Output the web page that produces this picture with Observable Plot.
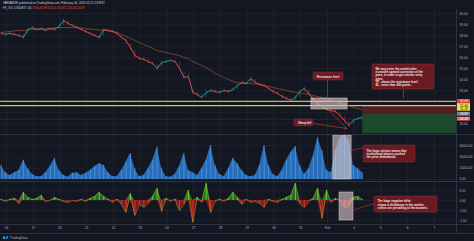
<!DOCTYPE html>
<html><head><meta charset="utf-8">
<script src="https://cdn.jsdelivr.net/npm/d3@7"></script>
<script src="https://cdn.jsdelivr.net/npm/@observablehq/plot@0.6"></script>
<style>
html,body{margin:0;padding:0;background:#131722;}
#root{position:relative;width:474px;height:241px;background:#131722;overflow:hidden;}
.pane{position:absolute;left:0;}
</style></head><body><div id="root"></div>
<script>
// ---------- data ----------
const dayLabels = ["16","17","20","21","22","23","24","27","28","29","30","31","Feb","4","5","6","7"];
const t0 = -0.2, step = 1 / 6; // 4-hour samples, in trading-day units
const close = [58.21,58.12,58.21,58.12,58.03,57.85,58.57,58.75,58.57,58.66,
 58.48,58.66,58.57,58.85,59.39,59.12,58.94,58.75,58.57,58.39,
 58.21,58.03,57.85,58.57,58.48,58.39,58.21,57.85,57.57,56.94,
 56.21,55.94,55.85,55.66,55.48,55.03,55.57,55.66,55.76,55.66,
 55.03,54.21,54.30,52.85,52.66,52.39,52.85,53.03,52.94,52.85,
 53.03,52.94,53.12,53.48,53.75,53.66,54.12,53.75,53.57,53.48,
 53.21,52.94,52.75,52.48,52.30,52.12,52.39,52.94,53.21,52.75,
 52.21,51.85,51.57,51.30,51.21,51.12,50.76,50.30,49.85,50.30,
 50.48,50.57];
const high = [58.30,58.25,58.30,58.24,58.15,58.10,58.66,58.86,58.70,58.76,
 58.62,58.76,58.70,59.02,59.52,59.30,59.08,58.88,58.70,58.52,
 58.33,58.15,58.05,58.68,58.62,58.50,58.35,58.10,57.75,57.30,
 56.70,56.15,56.05,55.85,55.64,55.40,55.70,55.80,55.90,55.80,
 55.60,54.70,54.55,53.05,52.86,52.70,53.00,53.16,53.08,53.00,
 53.15,53.08,53.25,53.62,53.88,53.82,54.30,54.02,53.72,53.62,
 53.40,53.12,52.90,52.66,52.45,52.30,52.55,53.08,53.36,53.10,
 52.60,52.10,51.80,51.50,51.36,51.28,51.00,50.60,50.20,50.42,
 50.60,50.68];
const low = [58.08,58.00,58.07,58.00,57.90,57.68,58.10,58.56,58.44,58.50,
 58.36,58.48,58.42,58.55,58.90,58.98,58.80,58.62,58.44,58.25,
 58.06,57.88,57.70,57.90,58.34,58.24,58.06,57.66,57.20,56.70,
 56.00,55.78,55.70,55.50,55.30,54.85,55.10,55.50,55.60,55.50,
 54.80,54.05,54.10,52.70,52.50,52.22,52.40,52.86,52.80,52.70,
 52.88,52.80,52.95,53.10,53.55,53.50,53.60,53.60,53.42,53.30,
 53.05,52.78,52.58,52.32,52.14,51.98,52.08,52.40,52.90,52.56,
 52.02,51.68,51.40,51.15,51.06,50.95,50.58,50.10,49.65,49.90,
 50.30,50.42];
const ma = [58.30,58.35,58.39,58.44,58.48,58.48,58.53,58.57,58.57,58.62,
 58.66,58.66,58.71,58.75,58.75,58.75,58.75,58.75,58.71,58.66,
 58.62,58.57,58.53,58.48,58.48,58.39,58.30,58.12,57.94,57.76,
 57.57,57.39,57.21,57.03,56.85,56.66,56.57,56.48,56.39,56.30,
 56.21,56.03,55.94,55.66,55.48,55.30,55.12,54.85,54.57,54.39,
 54.21,54.03,53.85,53.75,53.71,53.66,53.66,53.62,53.57,53.48,
 53.39,53.30,53.21,53.12,53.03,52.94,52.85,52.80,52.75,52.66,
 52.57,52.48,52.39,52.30,52.16,52.03,51.89,51.76,51.62,51.48,
 51.39,51.30];
const volume = [25000,12000,7000,12000,16000,34000,19000,9000,5000,5000,
 12000,23000,37000,16000,7000,4000,11000,12000,7000,11000,
 16000,23000,28000,25000,12000,5000,5000,16000,30000,46000,
 19000,5000,7000,19000,34000,57000,19000,5000,4000,9000,
 23000,46000,16000,12000,7000,19000,34000,60000,25000,9000,
 5000,19000,37000,28000,16000,7000,5000,7000,25000,60000,
 25000,9000,5000,16000,34000,48000,58000,25000,9000,19000,
 41000,74000,51000,16000,12000,51000,73000,80000,69000,25000,
 19000,12000];
const delta = [0.05,-0.05,0.05,0.1,-0.15,0.4,0.15,0.05,0.1,0.25,
 -0.05,0,0.15,0.05,-0.05,-0.1,0,-0.05,0.05,-0.05,
 0.1,0.2,0.4,0.2,0.05,-0.1,0.05,-0.2,-0.6,0.35,
 -0.75,-0.2,-0.35,-0.15,0.2,0.6,-0.55,0.1,-0.05,0.05,
 -0.5,-0.2,0.5,-1.1,0.15,-0.1,0.85,-0.6,-0.05,0.05,
 -0.05,0.1,0.4,0.15,-0.2,0.05,-0.1,-0.05,-0.15,-0.35,
 0.05,-0.05,-0.1,0.05,0.15,0.25,0.85,-0.15,-0.35,-0.05,
 0.1,0.6,-0.9,0.5,-0.1,0.1,0,-0.35,-0.3,0.15,
 0.2,0.05];
const priceGridTicks = [60,59,58,57,56,55,54,53,52,51,50];
const priceLabelTicks = [60,59,58,57,56,55,54,53,50];
const volumeTicks = [0,20000,40000,60000];
const deltaTicks = [0.5,0,-0.5,-1];
const hLevels = [52.03, 51.66];            // drawn horizontal levels
const lastPrice = 50.42;
const scaleLabels = [52.03, 51.66, 51.32, 50.87, 50.42];
const zoneBounds = {start: 13.32, stop: 51.66, entry: 50.91, target: 49.09};
const notePrice = [
  {t1: 11.477, t2: 12.598, p1: 54.66, p2: 53.94, tx: 11.60, ty: 54.30, text: "Resistance level"},
  {t1: 10.766, t2: 11.477, p1: 50.39, p2: 49.76, tx: 10.90, ty: 50.07, text: "Sharp fall"},
  {t1: 13.68, t2: 16.0, p1: 55.39, p2: 53.12, tx: 13.79, ty: 54.25,
   text: "We may enter the market after\na smooth upward correction of the\nprice, in order to get a better entry\nprice.\nTP - above the resistance level.\nSL - more than 200 points."}
];
const noteVolume = [{t1: 13.35, t2: 15.29, v1: 60200, v2: 30100, tx: 13.46, ty: 45100,
   text: "The huge volume means that\ninstitutional players pushed\nthe price downwards."}];
const noteDelta = [{t1: 13.76, t2: 16.11, v1: 0.2, v2: -0.6, tx: 13.87, ty: -0.2,
   text: "The large negative delta\nshows a disbalance in the market,\nsellers are prevailing at the moment."}];
const boxPrice = [{t1: 11.40, t2: 12.75, y1: 52.30, y2: 51.30}];
const boxVolume = [{t1: 12.22, t2: 12.90, y1: 0, y2: 77900}];
const boxDelta = [{t1: 12.45, t2: 12.97, y1: 0.4, y2: -1.0}];

// ---------- styling ----------
const W = 474, AX = 18;
const GRID = "#21252f", SEP = "#363a45", TXT = "#b2b5be";
const UP = "#26a69a", DOWN = "#ef5350", MA = "#8a4a2c";
const NOTE_FILL = "#6a1b21", NOTE_STROKE = "#963037", NOTE_TEXT = "#f2e6e6";
const HL_FILL = "#d9c7c7";
const xDomain = [-0.2243, 16.822];
const pxT = 1 / 26.75;
const dayIdx = dayLabels.map((d, i) => i);
const times = close.map((_, i) => t0 + i * step);
const priceRows = close.map((c, i) => ({t: times[i], c, ma: ma[i], h: high[i], l: low[i], o: i ? close[i - 1] : close[i]}));
const segs = close.slice(1).map((c, i) => ({t1: times[i], t2: times[i + 1], o: close[i], c}));
const volRows = volume.map((v, i) => ({t: times[i], v}));
const delRows = delta.map((v, i) => ({t: times[i], v}));
const FONT = "Liberation Sans, Arial, sans-serif";
const baseStyle = {background: "transparent", color: TXT, fontFamily: FONT, fontSize: "3.3px", overflow: "visible"};
const xMax = xDomain[1];

function noteMarks(notes, y1, y2) {
  return [
    Plot.rect(notes, {x1: "t1", x2: "t2", y1, y2, fill: NOTE_FILL, stroke: NOTE_STROKE, strokeWidth: 0.5, rx: 1.5}),
    Plot.text(notes, {x: "tx", y: "ty", text: "text", textAnchor: "start", fill: NOTE_TEXT,
      fontSize: 2.9, fontWeight: "bold", lineHeight: 1.15, fontFamily: FONT})
  ];
}
function hlMarks(box) {
  return Plot.rect(box, {x1: "t1", x2: "t2", y1: "y1", y2: "y2", fill: HL_FILL, fillOpacity: 0.62, stroke: "#eadada", strokeWidth: 0.5});
}
function place(el, top) {
  const d = document.createElement("div");
  d.className = "pane"; d.style.top = top + "px";
  d.appendChild(el);
  document.getElementById("root").appendChild(d);
}

// ---------- price pane ----------
const zones = [
  {t1: zoneBounds.start, t2: xMax, p1: zoneBounds.stop, p2: zoneBounds.entry, fill: "#561d26"},
  {t1: zoneBounds.start, t2: xMax, p1: zoneBounds.entry, p2: zoneBounds.target, fill: "#1a4a2b"}
];
const levelColors = ["#d9b233", "#cbd03a"];
const labelStyle = [
  {bg: "#e8433b", fg: "#ffffff"}, {bg: "#ece53a", fg: "#131722"}, {bg: "#ece53a", fg: "#131722"},
  {bg: "#7d808a", fg: "#ffffff"}, {bg: "#ee6b7a", fg: "#ffffff"}
];
const priceLabels = scaleLabels.map((v, i) => ({v, ...labelStyle[i]}));
const candleColor = d => d.c >= d.o ? UP : DOWN;

const price = Plot.plot({
  width: W, height: 125, marginLeft: 0, marginRight: AX, marginTop: 0, marginBottom: 0,
  style: baseStyle,
  x: {domain: xDomain, axis: null},
  y: {domain: [49.027, 60.391], axis: null},
  color: {type: "identity"},
  marks: [
    Plot.gridX(dayIdx, {stroke: GRID, strokeOpacity: 1, strokeWidth: 0.7}),
    Plot.gridY(priceGridTicks, {stroke: GRID, strokeOpacity: 1, strokeWidth: 0.7}),
    Plot.rect(zones, {x1: "t1", x2: "t2", y1: "p1", y2: "p2", fill: "fill"}),
    Plot.ruleY([lastPrice], {stroke: "#6e3a48", strokeWidth: 0.6, strokeDasharray: "1.5,1"}),
    Plot.ruleY(hLevels.map((v, i) => ({v, c: levelColors[i]})), {y: "v", stroke: "c", strokeWidth: 1.2}),
    Plot.line(priceRows, {x: "t", y: "ma", stroke: MA, strokeWidth: 0.8}),
    Plot.ruleX(priceRows, {x: "t", y1: "l", y2: "h", stroke: candleColor, strokeWidth: 0.5, strokeOpacity: 0.75}),
    Plot.link(segs, {x1: "t1", y1: "o", x2: "t2", y2: "c", stroke: candleColor, strokeWidth: 0.9}),
    hlMarks(boxPrice),
    Plot.link([{a: 12.0, b: 53.94, c: 12.0, d: 52.30}], {x1: "a", y1: "b", x2: "c", y2: "d", stroke: "#c0302e", strokeWidth: 0.7}),
    Plot.link([{a: 12.04, b: 51.21, c: 12.70, d: 49.66}], {x1: "a", y1: "b", x2: "c", y2: "d", stroke: "#c0302e", strokeWidth: 0.7}),
    Plot.arrow([{a: 11.48, b: 50.03, c: 12.72, d: 49.57}], {x1: "a", y1: "b", x2: "c", y2: "d", stroke: "#d0342f", strokeWidth: 0.7, headLength: 4}),
    Plot.link([{a: 14.84, b: 53.12, c: 14.84, d: 52.35}], {x1: "a", y1: "b", x2: "c", y2: "d", stroke: "#8a2a31", strokeWidth: 1.2}),
    ...noteMarks(notePrice, "p1", "p2"),
    Plot.axisY(priceLabelTicks, {anchor: "right", tickSize: 0, tickPadding: 3, tickFormat: d => d.toFixed(2), fontSize: 3.3, fill: TXT}),
    Plot.rect(priceLabels, {x1: xMax + 1 * pxT, x2: xMax + 14 * pxT, y1: d => d.v + 1.9 / 11, y2: d => d.v - 1.9 / 11, fill: "bg"}),
    Plot.text(priceLabels, {x: xMax + 7.5 * pxT, y: "v", text: d => d.v.toFixed(2), fill: "fg", fontSize: 3.1, fontFamily: FONT})
  ]
});
place(price, 9);

// ---------- volume pane ----------
const vol = Plot.plot({
  width: W, height: 47, marginLeft: 0, marginRight: AX, marginTop: 0, marginBottom: 0,
  style: baseStyle,
  x: {domain: xDomain, axis: null},
  y: {domain: [-3540, 79646], axis: null},
  color: {type: "identity"},
  marks: [
    Plot.gridX(dayIdx, {stroke: GRID, strokeOpacity: 1, strokeWidth: 0.7}),
    Plot.gridY(volumeTicks, {stroke: GRID, strokeOpacity: 1, strokeWidth: 0.7}),
    Plot.areaY(volRows, {x: "t", y: "v", fill: "#2c74c2", fillOpacity: 0.92}),
    Plot.ruleX(volRows, {x: "t", y1: 0, y2: "v", stroke: "#4a9be6", strokeWidth: 0.8}),
    hlMarks(boxVolume),
    Plot.link([{a: 12.90, b: 51300, c: 13.35, d: 56600}], {x1: "a", y1: "b", x2: "c", y2: "d", stroke: "#a8343a", strokeWidth: 0.7}),
    ...noteMarks(noteVolume, "v1", "v2"),
    Plot.axisY(volumeTicks, {anchor: "right", tickSize: 0, tickPadding: 3, tickFormat: d => d.toFixed(2), fontSize: 3.1, fill: TXT})
  ]
});
place(vol, 134);

// ---------- delta pane ----------
const del = Plot.plot({
  width: W, height: 55, marginLeft: 0, marginRight: AX, marginTop: 0, marginBottom: 12,
  style: baseStyle,
  x: {domain: xDomain, axis: null},
  y: {domain: [-1.2, 0.95], axis: null},
  color: {type: "identity"},
  marks: [
    Plot.gridX(dayIdx, {stroke: GRID, strokeOpacity: 1, strokeWidth: 0.7}),
    Plot.gridY(deltaTicks, {stroke: GRID, strokeOpacity: 1, strokeWidth: 0.7}),
    Plot.areaY(delRows, {x: "t", y: d => Math.max(0, d.v), fill: "#3fc02a", fillOpacity: 0.5}),
    Plot.areaY(delRows, {x: "t", y: d => Math.min(0, d.v), fill: "#e2261e", fillOpacity: 0.5}),
    Plot.ruleX(delRows, {x: "t", y1: 0, y2: "v", stroke: d => d.v >= 0 ? "#52d12a" : "#ec2a1f", strokeWidth: 1}),
    Plot.lineY(delRows, {x: "t", y: "v", stroke: "#a7b02c", strokeWidth: 0.5}),
    hlMarks(boxDelta),
    Plot.link([{a: 13.01, b: -0.45, c: 13.76, d: -0.15}], {x1: "a", y1: "b", x2: "c", y2: "d", stroke: "#a8343a", strokeWidth: 0.7}),
    ...noteMarks(noteDelta, "v1", "v2"),
    Plot.axisY(deltaTicks, {anchor: "right", tickSize: 0, tickPadding: 3, tickFormat: d => d.toFixed(2), fontSize: 3.1, fill: TXT}),
    Plot.axisX(dayIdx, {anchor: "bottom", tickSize: 0, tickPadding: 2.5, tickFormat: i => dayLabels[i], fontSize: 3.2, fill: TXT})
  ]
});
place(del, 181);

// ---------- chrome: header, separators, footer ----------
const ov = d3.select("#root").append("svg")
  .attr("width", W).attr("height", 241)
  .style("position", "absolute").style("left", 0).style("top", 0)
  .style("font-family", FONT);
[134, 181, 224, 233].forEach(y =>
  ov.append("line").attr("x1", 0).attr("x2", W).attr("y1", y + 0.5).attr("y2", y + 0.5).attr("stroke", SEP).attr("stroke-width", 0.8));
ov.append("line").attr("x1", 456.5).attr("x2", 456.5).attr("y1", 9).attr("y2", 233).attr("stroke", SEP).attr("stroke-width", 0.8);
ov.append("text").attr("x", 3).attr("y", 4.4).attr("font-size", 3).attr("fill", "#d1d4dc")
  .text("VARIANSE published on TradingView.com, February 04, 2020 02:21:53 EST");
const l2 = ov.append("text").attr("x", 3).attr("y", 9.2).attr("font-size", 3).attr("fill", "#d1d4dc");
l2.append("tspan").text("FX_IDC:USDWTI, 60  ");
l2.append("tspan").attr("fill", DOWN).text("O:50.41  H:50.51  L:50.32  C:50.44  ");
l2.append("tspan").attr("fill", "#c47a3c").text("50.87");
const logo = ov.append("g").attr("transform", "translate(3,235.5)");
logo.append("path").attr("d", "M0 3.5 h2.2 v-2.6 h-2.2 z M2.6 3.5 l1.4 -3.1 h1.5 l-1.4 3.1 z").attr("fill", "#2a9df4");
ov.append("text").attr("x", 10).attr("y", 238.8).attr("font-size", 3.2).attr("fill", TXT).text("TradingView");
</script></body></html>
